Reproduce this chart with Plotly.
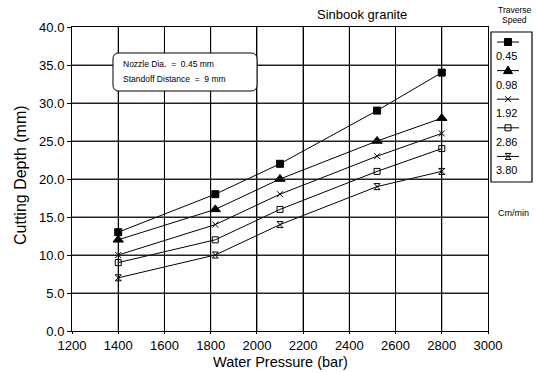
import plotly.graph_objects as go

W, H = 536, 373

pressure = [1400, 1820, 2100, 2520, 2800]
speeds = ["0.45", "0.98", "1.92", "2.86", "3.80"]
depth_045 = [13, 18, 22, 29, 34]
depth_098 = [12, 16, 20, 25, 28]
depth_192 = [10, 14, 18, 23, 26]
depth_286 = [9, 12, 16, 21, 24]
depth_380 = [7, 10, 14, 19, 21]
series = [depth_045, depth_098, depth_192, depth_286, depth_380]

x_ticks = [1200, 1400, 1600, 1800, 2000, 2200, 2400, 2600, 2800, 3000]
y_ticks = [0, 5, 10, 15, 20, 25, 30, 35, 40]

symbols = ["square", "triangle-up", "x-thin", "square-open", "hourglass-open"]
sizes = [7, 9, 6, 6, 6]

FONT = "Liberation Sans, Arial, sans-serif"

# plot area in pixels
PL, PR, PT, PB = 72, 488, 27, 331


def px(x):
    return x / W


def py(y):
    return 1 - y / H


XD = [PL / W, PR / W]
YD = [(H - PB) / H, (H - PT) / H]

fig = go.Figure()

for name, ys, sym, sz in zip(speeds, series, symbols, sizes):
    fig.add_trace(go.Scatter(
        x=pressure, y=ys, mode="lines+markers", name=name,
        line=dict(color="black", width=1),
        marker=dict(symbol=sym, size=sz, color="black",
                    line=dict(color="black", width=1)),
        showlegend=False))

fig.update_layout(
    template="none",
    width=W, height=H,
    margin=dict(l=0, r=0, t=0, b=0),
    paper_bgcolor="white", plot_bgcolor="white",
    font=dict(family=FONT, color="black"),
    xaxis=dict(domain=XD, range=[x_ticks[0], x_ticks[-1]],
               tickvals=x_ticks, showgrid=True, gridcolor="black", gridwidth=1,
               showline=True, linecolor="black", linewidth=1, mirror=True,
               ticks="outside", ticklen=2, tickcolor="black",
               tickfont=dict(size=13), zeroline=False, automargin=False),
    yaxis=dict(domain=YD, range=[y_ticks[0], y_ticks[-1]],
               tickvals=y_ticks, tickformat=".1f", showgrid=True,
               gridcolor="#222", gridwidth=1,
               showline=True, linecolor="black", linewidth=1,
               mirror=True, ticks="outside", ticklen=4, tickcolor="black",
               tickfont=dict(size=13), zeroline=False, automargin=False),
)

# grid lines drawn as paper-referenced shapes placed at the tick values
xr = (x_ticks[0], x_ticks[-1])
yr = (y_ticks[0], y_ticks[-1])
for xv in x_ticks[1:-1]:
    fx = XD[0] + (xv - xr[0]) / (xr[1] - xr[0]) * (XD[1] - XD[0])
    fig.add_shape(type="line", xref="paper", yref="paper", x0=fx, x1=fx,
                  y0=YD[0], y1=YD[1], line=dict(color="black", width=1))
for yv in y_ticks[1:-1]:
    fy = YD[0] + (yv - yr[0]) / (yr[1] - yr[0]) * (YD[1] - YD[0])
    fig.add_shape(type="line", xref="paper", yref="paper", x0=XD[0], x1=XD[1],
                  y0=fy, y1=fy, line=dict(color="#222", width=1))

LINE = dict(color="black", width=1)


def pth(points, close=True):
    s = "M " + " L ".join(f"{px(a):.5f},{py(b):.5f}" for a, b in points)
    return s + (" Z" if close else "")


# custom legend (line sample with marker above each label)
leg_top = 42
leg_step = 28.6
cx = 508
for i, name in enumerate(speeds):
    yy = leg_top + i * leg_step
    fig.add_shape(type="line", xref="paper", yref="paper",
                  x0=px(497), x1=px(519), y0=py(yy), y1=py(yy), line=LINE)
    if i == 0:
        fig.add_shape(type="path", xref="paper", yref="paper",
                      path=pth([(cx - 3.5, yy - 3.5), (cx + 3.5, yy - 3.5),
                                (cx + 3.5, yy + 3.5), (cx - 3.5, yy + 3.5)]),
                      line=LINE, fillcolor="black")
    elif i == 1:
        fig.add_shape(type="path", xref="paper", yref="paper",
                      path=pth([(cx, yy - 4.5), (cx + 4.5, yy + 3),
                                (cx - 4.5, yy + 3)]),
                      line=LINE, fillcolor="black")
    elif i == 2:
        fig.add_shape(type="path", xref="paper", yref="paper",
                      path=pth([(cx - 3, yy - 3), (cx + 3, yy + 3)], False)
                      + " " + pth([(cx - 3, yy + 3), (cx + 3, yy - 3)], False),
                      line=LINE)
    elif i == 3:
        fig.add_shape(type="path", xref="paper", yref="paper",
                      path=pth([(cx - 3, yy - 3), (cx + 3, yy - 3),
                                (cx + 3, yy + 3), (cx - 3, yy + 3)]),
                      line=LINE, fillcolor="rgba(0,0,0,0)")
    else:
        fig.add_shape(type="path", xref="paper", yref="paper",
                      path=pth([(cx - 3, yy - 3), (cx + 3, yy - 3),
                                (cx - 3, yy + 3), (cx + 3, yy + 3)]),
                      line=LINE, fillcolor="rgba(0,0,0,0)")
    fig.add_annotation(x=px(494), y=py(yy + 14), xref="paper", yref="paper",
                       text=name, showarrow=False, xanchor="left", yanchor="middle",
                       font=dict(family=FONT, size=11, color="black"))

# legend frame
fig.add_shape(type="rect", xref="paper", yref="paper", x0=px(491), x1=px(532),
              y0=py(32), y1=py(182), line=dict(color="black", width=1.2),
              fillcolor="rgba(0,0,0,0)")

# rounded info box
x0, x1, y0, y1, r = 113, 257, 53, 91, 6
pts = lambda a, b: f"{px(a):.5f},{py(b):.5f}"
path = (f"M {pts(x0 + r, y0)} L {pts(x1 - r, y0)} Q {pts(x1, y0)} {pts(x1, y0 + r)} "
        f"L {pts(x1, y1 - r)} Q {pts(x1, y1)} {pts(x1 - r, y1)} L {pts(x0 + r, y1)} "
        f"Q {pts(x0, y1)} {pts(x0, y1 - r)} L {pts(x0, y0 + r)} Q {pts(x0, y0)} {pts(x0 + r, y0)} Z")
fig.add_shape(type="path", xref="paper", yref="paper", path=path,
              line=dict(color="black", width=1), fillcolor="white")

texts = [
    ("Nozzle Dia.  =  0.45 mm", 121, 63.5, "left", 8.5),
    ("Standoff Distance  =  9 mm", 121, 79, "left", 8.5),
    ("Sinbook granite", 362, 14, "center", 13),
    ("Traverse", 514, 10, "center", 8.5),
    ("Speed", 514, 20, "center", 8.5),
    ("Cm/min", 513, 213, "center", 9),
    ("Water Pressure (bar)", 280, 362, "center", 14.5),
]
for t, xx, yy, anc, fs in texts:
    fig.add_annotation(x=px(xx), y=py(yy), xref="paper", yref="paper", text=t,
                       showarrow=False, xanchor=anc, yanchor="middle",
                       font=dict(family=FONT, size=fs, color="black"))

fig.add_annotation(x=px(20), y=py(175), xref="paper", yref="paper",
                   text="Cutting Depth (mm)", textangle=-90, showarrow=False,
                   xanchor="center", yanchor="middle",
                   font=dict(family=FONT, size=16, color="black"))

fig.write_html("out.html")
